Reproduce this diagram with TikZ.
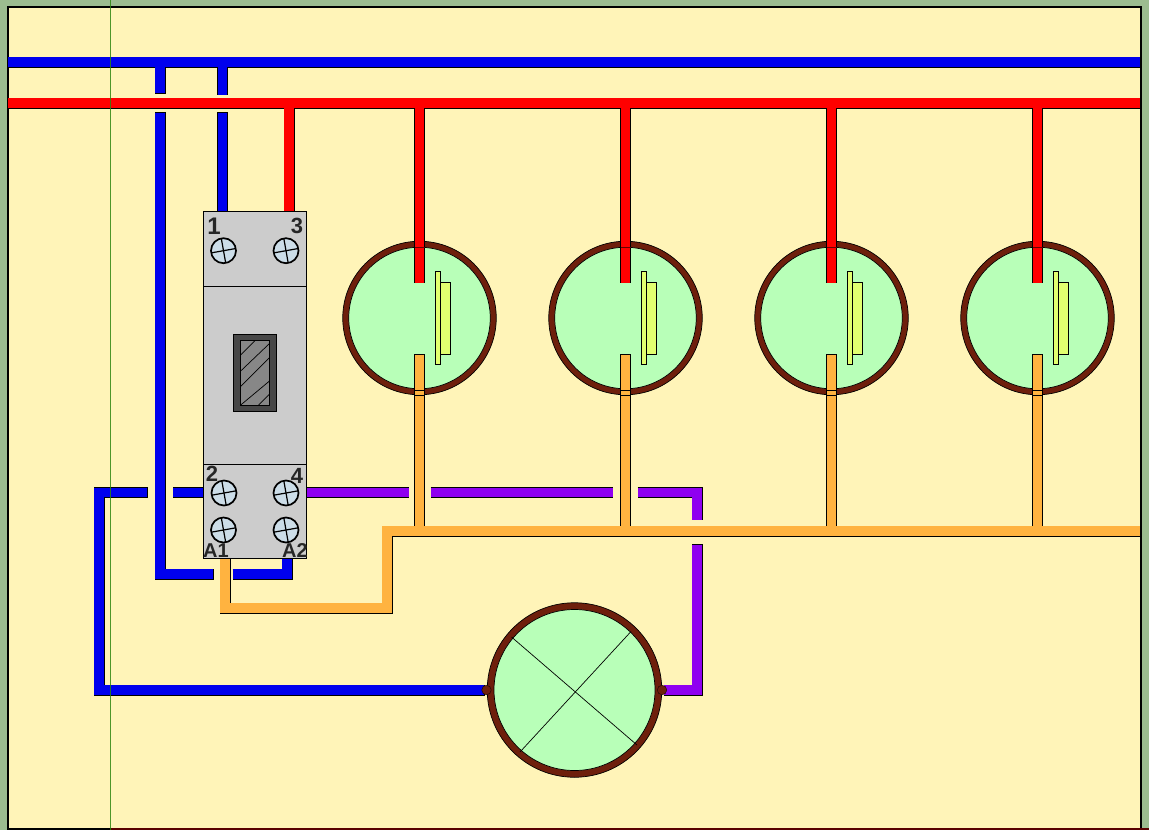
\documentclass[tikz,border=0pt]{standalone}
\usepackage{fontspec}
\setmainfont{Liberation Sans}
\definecolor{pagebg}{HTML}{9CBC90}
\definecolor{panel}{HTML}{FFF4B8}
\definecolor{wblue}{HTML}{0000EE}
\definecolor{wred}{HTML}{FF0000}
\definecolor{wpurple}{HTML}{8F00F0}
\definecolor{worange}{HTML}{FFB340}
\definecolor{ring}{HTML}{6E1F0C}
\definecolor{lampgreen}{HTML}{B8FFB8}
\definecolor{plate}{HTML}{E2FF70}
\definecolor{body}{HTML}{CCCCCC}
\definecolor{screwc}{HTML}{CCDDE8}
\definecolor{guide}{HTML}{2E8510}
\newcommand{\wiregroup}[2]{%
  \foreach \p in {#2}{\draw[wireout] \p;}%
  \foreach \p in {#2}{\draw[wirein,draw=#1] \p;}%
}
\tikzset{
  wireout/.style={draw=black,line width=11pt,line join=miter,shorten >=-0.5pt,shorten <=-0.5pt},
  wirein/.style={line width=9.9pt,line join=miter},
  ringouter/.style={circle,draw=black,line width=0.7pt,fill=ring,inner sep=0pt,outer sep=0pt},
  ringinner/.style={circle,draw=black,line width=0.7pt,fill=lampgreen,inner sep=0pt,outer sep=0pt},
  plateb/.style={draw=black,line width=0.8pt,fill=plate},
  screwn/.style={circle,draw=black,line width=1.7pt,fill=screwc,minimum size=25pt,inner sep=0pt,outer sep=0pt},
  termlabel/.style={inner sep=0pt,text=black!85,draw=none},
  terminal/.style={circle,draw=black!70!ring,line width=0.5pt,fill=ring,minimum size=9.5pt,inner sep=0pt,outer sep=0pt},
}
\begin{document}
\begin{tikzpicture}[x=1pt,y=-1pt]
\useasboundingbox (0,0) rectangle (1149,830);
\fill[pagebg] (0,0) rectangle (1149,830);
\draw[black,line width=2pt,fill=panel] (8,6.5) rectangle (1140.5,829);

% named wire points
\coordinate (bl) at (8,62);     \coordinate (br) at (1140,62);
\coordinate (rl) at (8,103);    \coordinate (rr) at (1140,103);
\foreach \n/\x in {1/419.5,2/625.5,3/831.5,4/1037.5}{
  \coordinate (rt\n) at (\x,103);
  \coordinate (re\n) at (\x,282.5);
  \coordinate (ot\n) at (\x,354.5);
  \coordinate (ob\n) at (\x,531);
}

% lamps
\foreach \n/\x in {1/419.5,2/625.5,3/831.5,4/1037.5}{
  \node[ringouter,minimum size=153.5pt] (lampo\n) at (\x,318) {};
  \node[ringinner,minimum size=141.5pt] (lamp\n) at (lampo\n) {};
  \draw[plateb] (\x+15.5,271) rectangle (\x+21,364);
  \draw[plateb] (\x+21,282) rectangle (\x+31,354);
}
\node[ringouter,minimum size=174.5pt] (bigo) at (574.5,690) {};
\node[ringinner,minimum size=161pt] (big) at (bigo) {};
\draw[black,line width=0.7pt] (511.5,637) -- (637,745);
\draw[black,line width=0.7pt] (631,631.5) -- (520,752);

% blue wires
\coordinate (d1a) at (160,62);   \coordinate (d1b) at (160,93);
\coordinate (d1c) at (160,112.5);\coordinate (d1d) at (160,574); \coordinate (d1e) at (213,574);
\coordinate (d2a) at (222.5,62); \coordinate (d2b) at (222.5,94.5);
\coordinate (d2c) at (222.5,112.5);\coordinate (d2d) at (222.5,211);
\coordinate (a2a) at (233,574);  \coordinate (a2b) at (287,574); \coordinate (a2c) at (287,558);
\coordinate (t2a) at (204,492.5);\coordinate (t2b) at (173,492.5);
\coordinate (t2c) at (147,492.5);\coordinate (t2d) at (99,492.5);
\coordinate (t2e) at (99,690);   \coordinate (t2f) at (484,690);
\wiregroup{wblue}{(bl)--(br),(d1a)--(d1b),(d2a)--(d2b),(d1c)--(d1d)--(d1e),(d2c)--(d2d),(a2a)--(a2b)--(a2c),(t2a)--(t2b),(t2c)--(t2d)--(t2e)--(t2f)}

% red wires
\coordinate (r0a) at (289,103); \coordinate (r0b) at (289,211);
\wiregroup{wred}{(rl)--(rr),(r0a)--(r0b),(rt1)--(re1),(rt2)--(re2),(rt3)--(re3),(rt4)--(re4)}

% purple wires
\coordinate (p1) at (306,492.5); \coordinate (p2) at (408.5,492.5);
\coordinate (p3) at (431,492.5); \coordinate (p4) at (612.5,492.5);
\coordinate (p5) at (638,492.5); \coordinate (p6) at (697,492.5); \coordinate (p7) at (697,519.5);
\coordinate (p8) at (697,544.5); \coordinate (p9) at (697,690);   \coordinate (p10) at (664,690);
\wiregroup{wpurple}{(p1)--(p2),(p3)--(p4),(p5)--(p6)--(p7),(p8)--(p9)--(p10)}

% orange wires
\coordinate (oa) at (1140,531); \coordinate (ob) at (387,531); \coordinate (oc) at (387,608);
\coordinate (od) at (225,608);  \coordinate (oe) at (225,558);
\wiregroup{worange}{(oa)--(ob)--(oc)--(od)--(oe),(ot1)--(ob1),(ot2)--(ob2),(ot3)--(ob3),(ot4)--(ob4)}

% ring edges seen through the orange and red wires
\foreach \x in {419.5,625.5,831.5,1037.5}{
  \draw[black,line width=0.7pt] (\x-5,390) -- (\x+5,390);
  \draw[black,line width=0.7pt] (\x-5,395) -- (\x+5,395);
  \draw[black!60!wred,line width=0.6pt] (\x-5,247) -- (\x+5,247);
}

% terminals of the big lamp
\node[terminal] (tl) at (486.5,690) {};
\node[terminal] (tr) at (662,690) {};

% contactor
\node[draw=black,line width=1pt,fill=body,minimum width=103pt,minimum height=347pt,inner sep=0pt,outer sep=0pt] (cont) at (255,384.7) {};
\draw[black,line width=0.9pt] (203.5,286) -- (306.5,286);
\draw[black,line width=0.9pt] (203.5,464.5) -- (306.5,464.5);
\draw[black,line width=1pt,fill=black!72] (233.5,334.5) rectangle (276.5,411);
\draw[black,line width=1pt,fill=black!47] (240.5,340.5) rectangle (269.5,405);
\foreach \a/\b/\c/\d in {240.7/355/255/340.7, 240.7/371/269.5/343.5, 240.7/386.5/269.5/357.5, 240.7/405/269.5/381, 258.5/405/269.5/394}{
  \draw[black,line width=0.7pt] (\a,\b) -- (\c,\d);
}
% screws
\foreach \n/\x/\y in {s1/223.5/250.7,s3/286/250.7,s2/224/493,s4/286/493,sa/223.5/530,sb/286/530}{
  \node[screwn] (\n) at (\x,\y) {};
  \draw[black,line width=1.2pt] (\x-12.3,\y+2.2) -- (\x+12.3,\y-2.2);
  \draw[black,line width=1.2pt] (\x-2.2,\y-12.3) -- (\x+2.2,\y+12.3);
}
\node[termlabel,font=\bfseries\fontsize{24}{24}\selectfont] (n1) at (214,226.5) {1};
\node[termlabel,font=\bfseries\fontsize{22}{22}\selectfont] (n3) at (297,226) {3};
\node[termlabel,font=\bfseries\fontsize{22}{22}\selectfont] (n2) at (212,474) {2};
\node[termlabel,font=\bfseries\fontsize{22}{22}\selectfont] (n4) at (297,476) {4};
\node[termlabel,font=\bfseries\fontsize{20}{20}\selectfont] (na1) at (216,551) {A1};
\node[termlabel,font=\bfseries\fontsize{20}{20}\selectfont] (na2) at (295,551) {A2};

% guide lines
\draw[guide,line width=1pt,opacity=0.85] (110.5,0) -- (110.5,830);
\draw[black!50!red!70!black,line width=1.5pt] (110.5,829.2) -- (1149,829.2);
\end{tikzpicture}
\end{document}
